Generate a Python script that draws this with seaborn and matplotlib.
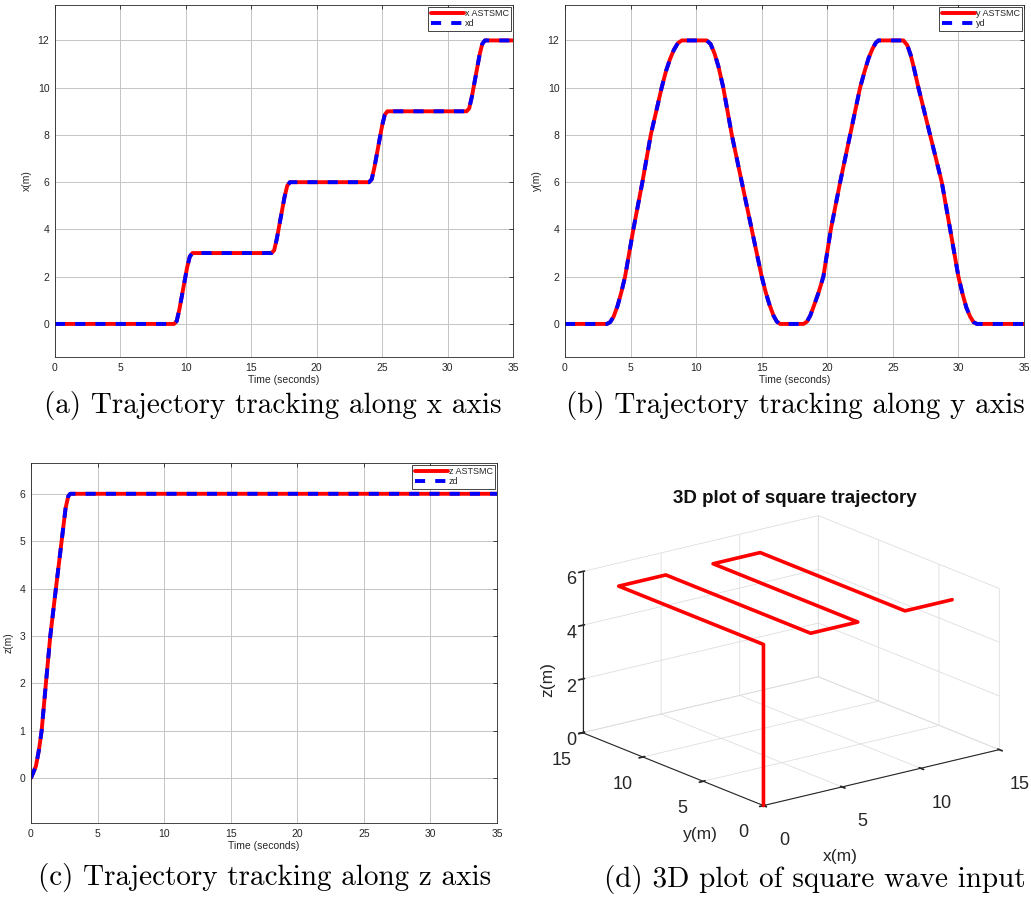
import matplotlib
matplotlib.use("Agg")
import matplotlib.pyplot as plt
import matplotlib.transforms as mtransforms
import seaborn as sns
from mpl_toolkits.mplot3d import Axes3D  # noqa: F401

# ---------------- data ----------------
# (a) x position vs time
x_time = [0, 9.1, 9.3, 9.5, 9.7, 9.9, 10.1, 10.3, 10.5,
          16.55, 16.75, 16.95, 17.15, 17.35, 17.55, 17.75, 17.95,
          24.0, 24.2, 24.4, 24.6, 24.8, 25.0, 25.2, 25.4,
          31.45, 31.65, 31.85, 32.05, 32.25, 32.45, 32.65, 32.85, 35]
x_value = [0, 0, 0.12, 0.6, 1.2, 1.8, 2.4, 2.85, 3,
           3, 3.12, 3.6, 4.2, 4.8, 5.4, 5.85, 6,
           6, 6.12, 6.6, 7.2, 7.8, 8.4, 8.85, 9,
           9, 9.12, 9.6, 10.2, 10.8, 11.4, 11.85, 12, 12]

# (b) y position vs time
y_time = [0, 3.2, 3.45, 3.7, 4.0, 4.3, 4.58, 5.21, 5.9, 6.54, 7.37,
          7.7, 8.0, 8.3, 8.6, 8.9,
          10.8, 11.1, 11.4, 11.7, 12.07, 12.72, 13.48, 14.24, 15.0,
          15.3, 15.6, 15.9, 16.15, 16.4,
          18.2, 18.45, 18.7, 19.0, 19.35, 19.7, 20.27, 20.98, 21.74, 22.5,
          22.85, 23.15, 23.45, 23.7, 23.9,
          25.8, 26.1, 26.35, 26.6, 26.95, 27.84, 28.73, 29.37, 30.0,
          30.3, 30.6, 30.9, 31.15, 31.4, 35]
y_value = [0, 0, 0.08, 0.3, 0.75, 1.35, 2, 4, 6, 8, 10,
           10.7, 11.2, 11.6, 11.88, 12,
           12, 11.85, 11.45, 10.9, 10, 8, 6, 4, 2,
           1.35, 0.8, 0.35, 0.1, 0,
           0, 0.1, 0.35, 0.8, 1.35, 2, 4, 6, 8, 10,
           10.7, 11.25, 11.65, 11.9, 12,
           12, 11.8, 11.4, 10.85, 10, 8, 6, 4, 2,
           1.3, 0.7, 0.3, 0.08, 0, 0]

# (c) z position vs time
z_time = [0, 0.15, 0.37, 0.6, 0.8, 1.12, 1.45, 1.87, 2.3, 2.6, 2.8, 2.95, 35]
z_value = [0, 0.1, 0.25, 0.6, 1, 2, 3, 4, 5, 5.7, 5.95, 6, 6]

# (d) 3D path vertices
path_x = [0, 0, 0, 3, 3, 6, 6, 9, 9, 12]
path_y = [0, 0, 12, 12, 0, 0, 12, 12, 0, 0]
path_z = [0, 6, 6, 6, 6, 6, 6, 6, 6, 6]

time_ticks = [0, 5, 10, 15, 20, 25, 30, 35]
xy_ticks = [0, 2, 4, 6, 8, 10, 12]
z_ticks = [0, 1, 2, 3, 4, 5, 6]
ticks_3d = [0, 5, 10, 15]
zticks_3d = [0, 2, 4, 6]
captions = ["(a) Trajectory tracking along x axis",
            "(b) Trajectory tracking along y axis",
            "(c) Trajectory tracking along z axis",
            "(d) 3D plot of square wave input"]

# ---------------- style ----------------
sns.set_theme(style="white")
SANS = ["Liberation Sans Narrow", "Liberation Sans", "DejaVu Sans"]
plt.rcParams["font.family"] = SANS
plt.rcParams["axes.unicode_minus"] = False

W, H = 1031, 901
fig = plt.figure(figsize=(W / 100, H / 100), dpi=100)
fig.patch.set_facecolor("white")


def box(l, t, r, b):
    return [l / W, 1 - b / H, (r - l) / W, (b - t) / H]


def fxy(px, py):
    return px / W, 1 - py / H


RED = "#ff0000"
BLUE = "#0000ff"
TXT = "#262626"


def tracking(rect, t, v, lab_act, lab_ref, ylabel, ylim, yticks):
    ax = fig.add_axes(rect)
    sns.lineplot(x=t, y=v, ax=ax, color=RED, lw=2.8, label=lab_act,
                 sort=False, estimator=None)
    sns.lineplot(x=t, y=v, ax=ax, color=BLUE, lw=2.8,
                 linestyle=(0, (2.6, 2.6)), label=lab_ref,
                 sort=False, estimator=None)
    ax.set_xlim(0, 35)
    ax.set_ylim(*ylim)
    ax.set_xticks(time_ticks)
    ax.set_yticks(yticks)
    ax.grid(True, color="#c4c4c4", lw=0.7)
    ax.set_axisbelow(True)
    for s in ax.spines.values():
        s.set_color(TXT)
        s.set_linewidth(0.6)
    ax.tick_params(direction="in", length=3, width=0.6, colors=TXT,
                   labelsize=7.5, top=True, right=True, pad=4)
    ax.set_xlabel("Time (seconds)", fontsize=7.5, color=TXT, labelpad=2)
    ax.set_ylabel(ylabel, fontsize=7.5, color=TXT, labelpad=4)
    leg = ax.legend(loc="upper right", fontsize=6.5, handlelength=3.7,
                    handletextpad=0.1, borderpad=0.25, labelspacing=0.15,
                    borderaxespad=0.2, fancybox=False, framealpha=1)
    leg.get_frame().set_edgecolor(TXT)
    leg.get_frame().set_linewidth(0.6)
    return ax


tracking(box(55, 5, 513, 357), x_time, x_value, "x ASTSMC", "xd", "x(m)",
         (-1.4, 13.5), xy_ticks)
tracking(box(565, 5, 1024, 357), y_time, y_value, "y ASTSMC", "yd", "y(m)",
         (-1.4, 13.5), xy_ticks)
tracking(box(31, 463, 497, 823), z_time, z_value, "z ASTSMC", "zd", "z(m)",
         (-0.95, 6.65), z_ticks)

# ---------------- 3D panel ----------------
ax3 = fig.add_axes(box(540, 466, 1031, 866), projection="3d")
ax3.set_proj_type("ortho")
ax3.view_init(elev=18, azim=-127.5)
ax3.plot(path_x, path_y, path_z, color=RED, lw=2.6)
ax3.set_xlim(0, 15)
ax3.set_ylim(0, 15)
ax3.set_zlim(0, 6)
ax3.set_xticks(ticks_3d)
ax3.set_yticks(ticks_3d)
ax3.set_zticks(zticks_3d)
ax3.set_box_aspect((1, 1, 0.57), zoom=1.1)
for axis in (ax3.xaxis, ax3.yaxis, ax3.zaxis):
    axis.set_pane_color((1, 1, 1, 0))
    axis.pane.set_edgecolor("#d0d0d0")
    axis._axinfo["grid"]["color"] = "#dedede"
    axis._axinfo["grid"]["linewidth"] = 0.6
    axis.line.set_color(TXT)
    axis.line.set_linewidth(0.8)
ax3.tick_params(labelsize=13, colors=TXT)
ax3.xaxis.set_tick_params(pad=9)
ax3.yaxis.set_tick_params(pad=5)
ax3.zaxis.set_tick_params(pad=-4)
ax3.set_xlabel("")
ax3.set_ylabel("")
ax3.set_zlabel("")
ax3.patch.set_alpha(0)
# nudge y tick labels down/right like the reference
shift = mtransforms.ScaledTranslation(0.07, -0.09, fig.dpi_scale_trans)
for tick in ax3.yaxis.get_major_ticks():
    tick.label1.set_transform(tick.label1.get_transform() + shift)

fig.text(*fxy(840, 856), "x(m)", ha="center", va="center", fontsize=12.5,
         color=TXT)
fig.text(*fxy(700, 834), "y(m)", ha="center", va="center", fontsize=12.5,
         color=TXT)
fig.text(*fxy(548, 680), "z(m)", ha="center", va="center", fontsize=12.5,
         color=TXT, rotation=90)
fig.text(*fxy(795, 498), "3D plot of square trajectory", ha="center",
         va="center", fontsize=13.5, fontweight="bold", color="#111111")

# ---------------- captions ----------------
for (cx, cy), cap in zip([(273, 405), (795, 405), (265, 878), (815, 879)],
                         captions):
    fig.text(*fxy(cx, cy), cap, ha="center", va="center",
             fontsize=21, family=["cmr10", "DejaVu Serif"], color="black")

fig.savefig("out.png", dpi=100, facecolor="white")
